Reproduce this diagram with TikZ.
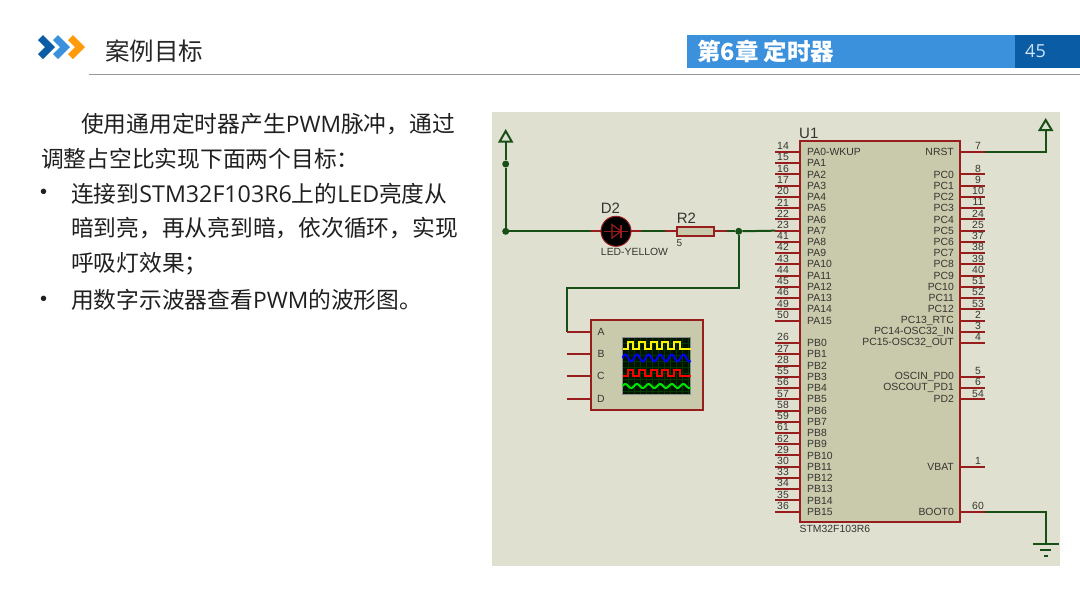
\documentclass[tikz,border=0pt]{standalone}
\usepackage{fontspec}
\setmainfont{Noto Sans CJK SC}
\newfontfamily\schem{Liberation Sans}
\newfontfamily\latf{Open Sans}
\newcommand{\fs}[1]{\fontsize{#1}{#1}\selectfont}
\definecolor{barblue}{HTML}{3C91DD}
\definecolor{bardark}{HTML}{0A5CA5}
\definecolor{chevorange}{HTML}{FF9A0A}
\definecolor{sheet}{HTML}{E0E0D1}
\definecolor{chipfill}{HTML}{C9C9AC}
\definecolor{wirec}{HTML}{165016}
\definecolor{pinc}{HTML}{981E1E}
\definecolor{labelc}{HTML}{35352F}
\tikzset{
  wire/.style={draw=wirec,line width=2pt},
  pinline/.style={draw=pinc,line width=2pt},
  junction/.style={circle,fill=wirec,inner sep=0pt,minimum size=7pt},
  bodyline/.style={anchor=west,inner sep=0pt,text=black!88,font=\fs{22.75}},
  bulletmark/.style={anchor=west,inner sep=0pt,text=black!88,font=\schem\fs{20}},
  leftlabel/.style={anchor=west,inner sep=0pt,text=labelc,font=\schem\fs{10.4}},
  rightlabel/.style={anchor=east,inner sep=0pt,text=labelc,font=\schem\fs{10.4}},
  pinnum/.style={inner sep=0pt,text=labelc,font=\schem\fs{10.4}},
  comp/.style={anchor=center,inner sep=0pt,text=labelc,font=\schem\fs{15}},
  power/.style={draw=wirec,line width=2pt,fill=sheet}
}
\begin{document}
\begin{tikzpicture}[x=1pt,y=-1pt]
\useasboundingbox (0,0) rectangle (1080,608);
\fill[white] (0,0) rectangle (1080,608);
% header
\foreach \dx/\c in {0/bardark,15/barblue,30/chevorange}{
  \fill[\c,xshift=\dx pt] (38,40) -- (43,35) -- (55,47) -- (43,59) -- (38,54) -- (45,47) -- cycle;
}
\node[anchor=west,inner sep=0pt,text=black!85,font=\fs{24.5}] (title) at (105,51.5) {案例目标};
\draw[black!40,line width=1pt] (89,74.5) -- (1080,74.5);
\fill[barblue] (687,35) rectangle (1015,67.5);
\fill[bardark] (1015,35) rectangle (1080,67.5);
\node[anchor=west,inner sep=0pt,text=white,font=\bfseries\fs{23.5}] (chapter) at (697,51.5) {第6章 定时器};
\node[anchor=west,inner sep=0pt,text=white!75!barblue,font=\latf\fs{18}] (pageno) at (1025,51.5) {45};
% body text
\node[bodyline] (t1) at (81,124) {使用通用定时器产生{\latf PWM}脉冲，通过};
\node[bodyline] (t2) at (41,158.5) {调整占空比实现下面两个目标：};
\node[bulletmark] (b1) at (40,194) {•};
\node[bodyline] (t3) at (71,193.5) {连接到{\latf\fs{23.2}STM32F103R6}上的{\latf\fs{23.2}LED}亮度从};
\node[bodyline] (t4) at (71,228.5) {暗到亮，再从亮到暗，依次循环，实现};
\node[bodyline] (t5) at (71,263.5) {呼吸灯效果；};
\node[bulletmark] (b2) at (40,300.5) {•};
\node[bodyline] (t6) at (71,300) {用数字示波器查看{\latf PWM}的波形图。};
% schematic sheet
\fill[sheet] (492,112) rectangle (1060,566);
% chip
\fill[chipfill] (799.5,141) rectangle (960,522);
\foreach \r/\n/\l in {0/14/PA0-WKUP,1/15/PA1,2/16/PA2,3/17/PA3,4/20/PA4,5/21/PA5,6/22/PA6,7/23/PA7,8/41/PA8,9/42/PA9,10/43/PA10,11/44/PA11,12/45/PA12,13/46/PA13,14/49/PA14,15/50/PA15,17/26/PB0,18/27/PB1,19/28/PB2,20/55/PB3,21/56/PB4,22/57/PB5,23/58/PB6,24/59/PB7,25/61/PB8,26/62/PB9,27/29/PB10,28/30/PB11,29/33/PB12,30/34/PB13,31/35/PB14,32/36/PB15}{
  \pgfmathsetmacro{\yy}{152+11.24*\r}
  \coordinate (LP\r) at (775,\yy);
  \coordinate (LI\r) at (799.5,\yy);
  \draw[pinline] (LP\r) -- (LI\r);
  \node[leftlabel] (LL\r) at (807,\yy) {\l};
  \node[pinnum] (LN\r) at (783,\yy-5.8) {\n};
}
\foreach \r/\n/\l in {0/7/NRST,2/8/PC0,3/9/PC1,4/10/PC2,5/11/PC3,6/24/PC4,7/25/PC5,8/37/PC6,9/38/PC7,10/39/PC8,11/40/PC9,12/51/PC10,13/52/PC11,14/53/PC12,15/2/PC13\_RTC,16/3/PC14-OSC32\_IN,17/4/PC15-OSC32\_OUT,20/5/OSCIN\_PD0,21/6/OSCOUT\_PD1,22/54/PD2,28/1/VBAT,32/60/BOOT0}{
  \pgfmathsetmacro{\yy}{152+11.24*\r}
  \coordinate (RP\r) at (985,\yy);
  \coordinate (RI\r) at (960,\yy);
  \draw[pinline] (RI\r) -- (RP\r);
  \node[rightlabel] (RL\r) at (954,\yy) {\l};
  \node[pinnum] (RN\r) at (978,\yy-5.8) {\n};
}
\draw[pinc,line width=2pt] (799.5,141) rectangle (960,522);
\node[comp,anchor=west] (U1) at (799,133) {U1};
\node[anchor=west,inner sep=0pt,text=labelc,font=\schem\fs{10.4}] (U1v) at (799.5,529) {STM32F103R6};
% power and ground
\coordinate (vccL) at (505.7,142);
\coordinate (vccR) at (1045.7,130);
\coordinate (gnd) at (1045.7,544);
\draw[wire] (RP0) -- (RP0 -| vccR) -- (vccR);
\draw[power] (1045.7,120) -- (1051.7,130) -- (1039.7,130) -- cycle;
\draw[wire] (RP32) -- (RP32 -| gnd) -- (gnd);
\draw[wire] (1033,544) -- (1059,544);
\draw[wire] (1040,550.3) -- (1051,550.3);
\draw[wire] (1044,556.3) -- (1047.5,556.3);
% left wires
\node[junction] (j1) at (505.7,164) {};
\node[junction] (j2) at (505.7,231.3) {};
\node[junction] (j3) at (738.7,231.3) {};
\draw[power] (505.7,131) -- (511.7,141.5) -- (499.7,141.5) -- cycle;
\draw[wire] (vccL) -- (j1) -- (j2);
% LED
\coordinate (ledA) at (591,231.3);
\coordinate (ledK) at (641,231.3);
\coordinate (rA) at (665,231.3);
\coordinate (rK) at (727,231.3);
\draw[wire] (j2) -- (ledA);
\draw[wire] (ledK) -- (rA);
\draw[wire] (rK) -- (j3);
\draw[wire] (j3) -- (LP7);
\draw[pinline] (ledA) -- (ledK);
\node[circle,draw=pinc,fill=black,line width=1pt,inner sep=0pt,minimum size=30pt] (D2) at (616,231.3) {};
\draw[pinc,line width=1.2pt] (604,231.3) -- (628,231.3);
\draw[pinc,line width=1.2pt] (612,224.5) -- (612,238) -- (621,231.3) -- cycle;
\draw[pinc,line width=1.2pt] (621,224.5) -- (621,238);
\node[comp] (D2l) at (610.5,208.5) {D2};
\node[anchor=center,inner sep=0pt,text=labelc,font=\schem\fs{10.4}] (D2v) at (634.5,252) {LED-YELLOW};
% resistor
\draw[pinline] (rA) -- (rK);
\node[draw=pinc,fill=chipfill,line width=2pt,inner sep=0pt,minimum width=37pt,minimum height=9.5pt] (R2) at (695.5,231.3) {};
\node[comp] (R2l) at (686.5,218) {R2};
\node[anchor=center,inner sep=0pt,text=labelc,font=\schem\fs{10}] (R2v) at (679.5,243) {5};
% oscilloscope
\coordinate (sA) at (566.5,331.5);
\coordinate (bend) at (566.5,287.5);
\draw[wire] (j3) -- (j3 |- bend) -- (bend) -- (sA);
\foreach \p/\yy in {A/331.5,B/354,C/376,D/399}{
  \coordinate (pin\p) at (566.5,\yy);
  \draw[pinline] (pin\p) -- (591,\yy);
}
\node[draw=pinc,fill=chipfill,line width=2pt,inner sep=0pt,minimum width=111.5pt,minimum height=90pt] (scope) at (646.8,365) {};
\foreach \p/\yy in {A/331.5,B/354,C/376,D/399}{
  \node[leftlabel,anchor=center] (lab\p) at (601,\yy) {\p};
}
\fill[black!92!green] (622.5,337) rectangle (690.5,394);
\draw[green!22!black,line width=.6pt,shift={(622.5,337)}] (0,0) grid[xstep=6pt,ystep=6pt] (68,57);
\draw[black!45,line width=.6pt] (622.5,337) rectangle (690.5,394);
\def\sqw#1#2#3{%
  \draw[#1,line width=2pt,line join=miter] (622.5,#3)
    \foreach \k in {0,...,4}{ -- ({627.5+11.6*\k},#3) -- ({627.5+11.6*\k},#2) -- ({633.3+11.6*\k},#2) -- ({633.3+11.6*\k},#3) } -- (690.5,#3);}
\sqw{yellow}{341.5}{349}
\sqw{red}{369.5}{376}
\draw[blue,line width=2pt] plot[domain=0:68,samples=90,smooth] ({622.5+\x},{358-3.5*sin(31.03*\x)});
\draw[green!90!black,line width=2pt] plot[domain=0:68,samples=90,smooth] ({622.5+\x},{386-2*sin(31.03*\x)});
\end{tikzpicture}
\end{document}
